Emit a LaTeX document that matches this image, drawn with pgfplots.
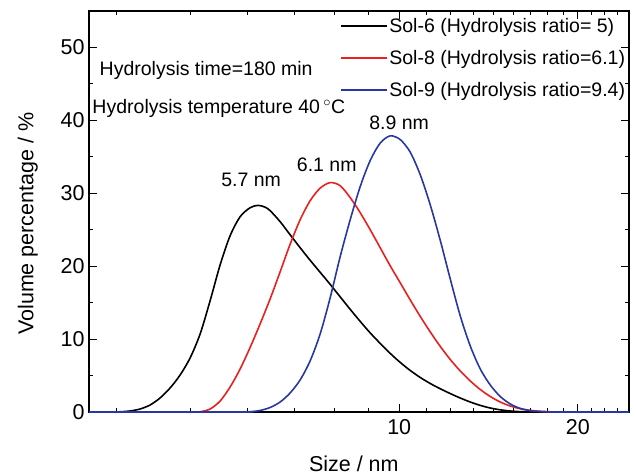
\documentclass[border=0pt]{standalone}
\usepackage{fontspec}
\setmainfont{Liberation Sans}
\usepackage{pgfplots}
\pgfplotsset{compat=1.18}
\usetikzlibrary{calc}
\definecolor{cred}{RGB}{232,32,30}
\definecolor{cblue}{RGB}{40,56,160}
\begin{document}
\begin{tikzpicture}
\begin{axis}[
 scale only axis, width=540bp, height=401bp,
 xmode=log, log basis x=10,
 xmin=3.0, xmax=24.4, ymin=0, ymax=55,
 xtick={10,20}, xticklabels={10,20},
 minor xtick={3.3333,4.4444,5.5556,6.6667,7.7778,8.8889,11.1111,12.2222,13.3333,14.4444,15.5556,16.6667,17.7778,18.8889,21.1111,22.2222,23.3333},
 ytick={0,10,20,30,40,50}, minor ytick={5,15,25,35,45},
 tick align=inside,
 major tick length=8bp, minor tick length=4bp,
 every tick/.style={black, line width=0.9bp},
 axis line style={line width=1.1bp},
 font=\fontsize{21.5bp}{25bp}\selectfont,
 /pgf/number format/assume math mode=true,
 xticklabel style={yshift=-4bp},
 yticklabel style={xshift=-1bp},
 xlabel={Size / nm}, ylabel={Volume percentage / \%},
 xlabel style={at={(axis description cs:0.4904,0)}, anchor=base, yshift=-59.3bp},
 ylabel style={at={(axis description cs:-0.1031,0.4697)}, anchor=base},
 clip=false,
 legend cell align=left,
 legend style={draw=none, fill=none, at={(rel axis cs:0.46,0.993)}, anchor=north west,
   font=\fontsize{19.5bp}{23bp}\selectfont, nodes={inner sep=2bp}, row sep=12.6bp},
 legend image code/.code={\draw[#1, line width=1.8bp] (0bp,0bp) -- (45bp,0bp);},
]
\addplot[black, line width=1.6bp, smooth, tension=0.5] coordinates {
(3.0,0) (3.256,0) (3.385,0.03) (3.519,0.14) (3.658,0.41) (3.803,0.96) (3.953,1.92) (4.110,3.30) (4.273,5.08) (4.442,7.42) (4.618,10.71) (4.800,15.25) (4.991,20.19) (5.188,24.18) (5.394,26.79) (5.607,28.02) (5.784,28.34) (5.944,28.09) (6.060,27.61) (6.300,26.10) (6.549,24.31) (6.809,22.53) (7.078,20.81) (7.359,19.16) (7.650,17.51) (7.953,15.80) (8.268,14.08) (8.595,12.43) (8.935,10.85) (9.289,9.41) (9.657,8.04) (10.039,6.80) (10.436,5.70) (10.850,4.74) (11.279,3.91) (11.726,3.19) (12.190,2.53) (12.673,1.92) (13.174,1.37) (13.696,0.91) (14.238,0.55) (14.802,0.30) (15.388,0.14) (15.998,0.05) (16.631,0.01) (17.288,0) (24.4,0)};
\addlegendentry{Sol-6 (Hydrolysis ratio= 5)}
\addplot[cred, line width=1.6bp, smooth, tension=0.5] coordinates {
(3.0,0) (4.442,0) (4.618,0.04) (4.800,0.41) (4.991,1.51) (5.188,3.43) (5.394,5.91) (5.607,8.86) (5.829,12.09) (6.060,15.52) (6.300,19.23) (6.549,23.01) (6.809,26.37) (7.078,28.98) (7.359,30.70) (7.650,31.46) (7.953,31.04) (8.268,29.40) (8.595,27.34) (8.935,25.00) (9.289,22.53) (9.657,20.05) (10.039,17.72) (10.436,15.38) (10.850,13.12) (11.279,10.99) (11.726,9.00) (12.190,7.21) (12.673,5.63) (13.174,4.26) (13.696,3.09) (14.238,2.13) (14.802,1.37) (15.388,0.82) (15.998,0.45) (16.631,0.22) (17.288,0.10) (17.974,0.03) (18.685,0) (24.4,0)};
\addlegendentry{Sol-8 (Hydrolysis ratio=6.1)}
\addplot[cblue, line width=1.6bp, smooth, tension=0.5] coordinates {
(3.0,0) (5.394,0) (5.607,0.04) (5.829,0.21) (6.060,0.62) (6.300,1.37) (6.549,2.61) (6.809,4.40) (7.078,7.01) (7.359,10.71) (7.650,15.66) (7.953,21.29) (8.268,26.37) (8.595,30.91) (8.935,34.48) (9.289,36.88) (9.657,37.87) (10.039,37.36) (10.436,35.65) (10.850,32.55) (11.279,28.43) (11.726,23.56) (12.190,18.27) (12.673,13.19) (13.174,9.07) (13.696,5.91) (14.238,3.71) (14.802,2.13) (15.388,1.10) (15.998,0.49) (16.631,0.19) (17.288,0.06) (17.974,0.01) (18.685,0) (24.4,0)};
\addlegendentry{Sol-9 (Hydrolysis ratio=9.4)}
\node[anchor=base west, inner sep=0pt, font=\fontsize{19.5bp}{23bp}\selectfont] at (rel axis cs:0.0194,0.838) {Hydrolysis time=180 min};
\node[anchor=base west, inner sep=0pt, font=\fontsize{19.5bp}{23bp}\selectfont] at (rel axis cs:0.0061,0.744) {Hydrolysis temperature 40\,$^{\circ}$C};
\node[anchor=base, inner sep=0pt, font=\fontsize{19.5bp}{23bp}\selectfont] at (axis cs:5.63,30.9) {5.7 nm};
\node[anchor=base, inner sep=0pt, font=\fontsize{19.5bp}{23bp}\selectfont] at (axis cs:7.55,33.0) {6.1 nm};
\node[anchor=base, inner sep=0pt, font=\fontsize{19.5bp}{23bp}\selectfont] at (axis cs:10.0,38.7) {8.9 nm};
\end{axis}
\pgfresetboundingbox
\path ($(current axis.south west)+(-89bp,-63bp)$) rectangle ($(current axis.north east)+(7bp,11bp)$);
\end{tikzpicture}
\end{document}
